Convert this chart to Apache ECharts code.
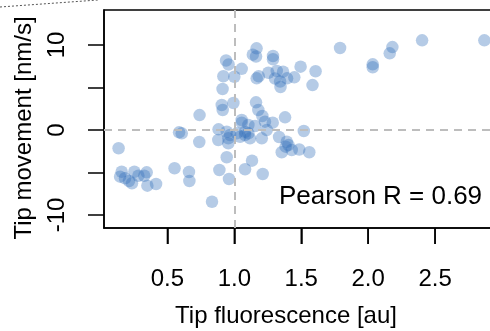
<!DOCTYPE html>
<html>
<head>
<meta charset="utf-8">
<script src="https://cdn.jsdelivr.net/npm/echarts@6/dist/echarts.min.js"></script>
<style>html,body{margin:0;padding:0;background:#fff}#c{width:490px;height:331px}</style>
</head>
<body>
<div id="c"></div>
<script>
const xVals = [0.135,0.158,0.146,0.183,0.213,0.235,0.253,0.283,0.327,0.345,0.350,0.415,
  0.553,0.661,0.664,0.587,0.607,0.738,0.740,0.833,
  0.882,0.880,0.888,0.943,0.960,0.943,0.968,0.955,0.955,1.018,1.043,1.080,1.105,1.117,1.080,
  1.055,1.105,1.155,1.205,1.242,1.229,1.287,1.209,1.179,1.162,1.055,0.993,0.906,0.913,0.912,
  1.080,1.132,1.212,
  1.379,1.334,1.392,1.404,1.383,1.429,1.485,1.560,1.354,1.519,
  1.166,1.138,1.162,1.289,1.289,0.938,0.957,1.055,0.918,1.000,1.182,1.167,1.254,1.317,1.364,
  1.304,1.342,1.345,1.394,1.448,1.495,1.607,1.584,
  1.790,2.034,2.034,2.181,2.161,2.403,2.868];
const yVals = [-2.15,-4.91,-5.49,-5.68,-6.00,-6.27,-4.91,-5.38,-5.38,-4.98,-6.55,-6.35,
  -4.50,-4.94,-6.00,-0.27,-0.39,-1.41,1.76,-8.44,
  0.08,-1.18,-4.71,-3.21,-5.76,-0.20,-0.59,-0.98,-1.56,-0.39,-0.79,-0.59,-0.39,-0.98,-0.20,
  0.86,0.59,0.47,-0.98,0.00,0.98,0.86,1.65,2.35,3.26,1.18,3.18,2.94,2.35,4.82,
  -4.62,-3.61,-5.18,
  1.49,-0.82,-1.38,-1.76,-1.96,-2.35,-2.29,-2.62,-2.62,-0.12,
  9.61,8.86,8.65,8.71,8.32,8.18,7.71,7.20,6.32,6.27,6.33,6.08,6.74,6.94,6.86,
  6.06,5.71,5.06,6.08,6.20,7.45,6.91,5.29,
  9.65,7.73,7.38,9.76,9.02,10.55,10.55];
const xTicks = [0.5, 1.0, 1.5, 2.0, 2.5, 3.0];
const xTickLabels = [0.5, 1.0, 1.5, 2.0, 2.5];
const yTicks = [-10, -5, 0, 5, 10];
const yTickLabels = [-10, 0, 10];
const refX = 1.0, refY = 0;
const xTitle = 'Tip fluorescence [au]';
const yTitle = 'Tip movement [nm/s]';
const note = 'Pearson R = 0.69';

const points = xVals.map((x, i) => [x, yVals[i]]);
const FONT = 'Liberation Sans, Arial, sans-serif';
const Y_MIN = -11.53, Y_MAX = 14.12;
const TICK_LEN = 16;
const chart = echarts.init(document.getElementById('c'), null, {renderer: 'canvas'});
const baseGraphic = [
  {type: 'line', shape: {x1: 0, y1: 7, x2: 98, y2: 0}, style: {stroke: '#555', lineWidth: 1, lineDash: [2, 2]}, silent: true},
  {type: 'text', x: 286, y: 316, style: {text: xTitle, font: '24px ' + FONT, fill: '#000', textAlign: 'center', textVerticalAlign: 'middle'}},
  {type: 'text', x: 24, y: 128, rotation: Math.PI / 2, style: {text: yTitle, font: '24px ' + FONT, fill: '#000', textAlign: 'center', textVerticalAlign: 'middle'}},
  {type: 'text', x: 279, y: 197, style: {text: note, font: '26px ' + FONT, fill: '#000', textAlign: 'left', textVerticalAlign: 'middle'}}
];
chart.setOption({
  animation: false,
  backgroundColor: '#fff',
  grid: {left: 104, top: 10, width: 398, height: 218, outerBoundsMode: 'none', containLabel: false,
    show: true, borderColor: '#000', borderWidth: 1.5, backgroundColor: 'transparent'},
  xAxis: {
    type: 'value', min: 0.026, max: 3.0, position: 'bottom',
    axisLine: {show: true, onZero: false, lineStyle: {color: '#000', width: 1.5}},
    splitLine: {show: false},
    axisTick: {show: true, length: TICK_LEN, inside: false, customValues: xTicks, lineStyle: {color: '#000', width: 1.5}},
    axisLabel: {customValues: xTickLabels, margin: 39, fontSize: 24, color: '#000', fontFamily: FONT,
      formatter: v => v.toFixed(1)}
  },
  yAxis: {
    type: 'value', min: Y_MIN, max: Y_MAX, position: 'left',
    axisLine: {show: true, onZero: false, lineStyle: {color: '#000', width: 1.5}},
    splitLine: {show: false},
    axisTick: {show: true, length: TICK_LEN, inside: false, customValues: yTicks, lineStyle: {color: '#000', width: 1.5}},
    axisLabel: {customValues: yTickLabels, rotate: 90, margin: 35, fontSize: 24, color: '#000', fontFamily: FONT,
      formatter: v => String(v)}
  },
  series: [
    {type: 'line', data: [], z: 1, silent: true,
      markLine: {silent: true, symbol: 'none', animation: false, label: {show: false},
        lineStyle: {color: '#bdbdbd', type: [8, 6], width: 2},
        data: [{xAxis: refX}, {yAxis: refY}]}},
    {type: 'scatter', data: points, z: 2, silent: true, symbol: 'circle', symbolSize: 12.5,
      itemStyle: {color: 'rgba(50,110,185,0.45)'}}
  ],
  graphic: baseGraphic
});
// x-axis ticks placed through the chart's own scale
const tickGraphics = xTicks.map(v => {
  const p = chart.convertToPixel({gridIndex: 0}, [v, Y_MIN]);
  return {type: 'line', z: 100, silent: true,
    shape: {x1: p[0], y1: p[1], x2: p[0], y2: p[1] + TICK_LEN},
    style: {stroke: '#000', lineWidth: 1.5}};
});
chart.setOption({graphic: baseGraphic.concat(tickGraphics)});
</script>
</body>
</html>
